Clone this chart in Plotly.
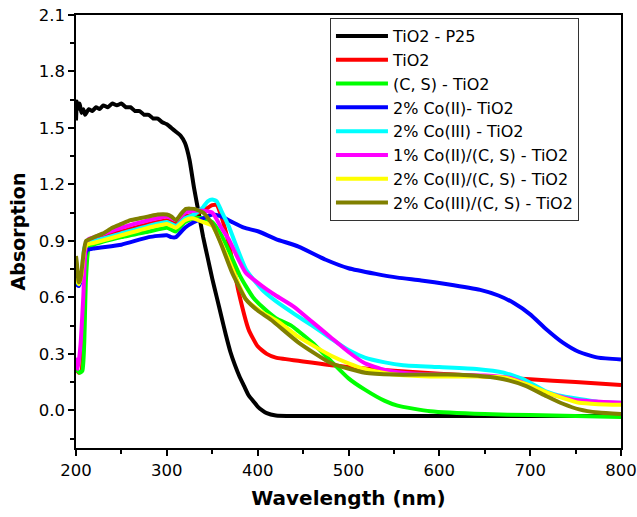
import plotly.graph_objects as go

# wavelength (nm) / absorption
p25_nm = [200, 201, 202, 204, 206, 208, 210, 214, 218, 222, 226, 230, 235, 240, 245, 250, 255, 260,
          265, 270, 275, 280, 285, 290, 295, 300, 305, 310, 315, 320, 325, 330, 335, 340, 345, 350,
          355, 360, 365, 370, 375, 380, 385, 390, 395, 400, 405, 410, 420, 440, 500, 600, 700, 800]
p25_abs = [1.54, 1.64, 1.60, 1.63, 1.58, 1.60, 1.57, 1.60, 1.59, 1.61, 1.60, 1.62, 1.61, 1.63, 1.62,
           1.63, 1.61, 1.61, 1.59, 1.59, 1.57, 1.57, 1.55, 1.55, 1.53, 1.52, 1.50, 1.48, 1.46, 1.42,
           1.33, 1.18, 1.05, 0.92, 0.81, 0.70, 0.60, 0.50, 0.40, 0.31, 0.24, 0.18, 0.13, 0.08, 0.05,
           0.02, 0.00, -0.015, -0.027, -0.03, -0.03, -0.03, -0.03, -0.03]

tio2_nm = [200, 203, 206, 208, 210, 212, 220, 250, 280, 300, 305, 310, 320, 330, 340, 350, 355, 360,
           368, 379, 390, 400, 410, 420, 450, 500, 550, 600, 650, 700, 750, 800]
tio2_abs = [0.22, 0.20, 0.21, 0.40, 0.80, 0.89, 0.91, 0.95, 0.99, 1.01, 1.00, 0.99, 1.03, 1.04, 1.06,
            1.09, 1.09, 1.03, 0.89, 0.63, 0.43, 0.34, 0.30, 0.28, 0.26, 0.23, 0.21, 0.195, 0.18,
            0.165, 0.15, 0.135]

cs_nm = [200, 204, 207, 209, 211, 214, 220, 250, 280, 300, 305, 310, 320, 330, 340, 350, 360, 368,
         380, 387, 395, 405, 420, 437, 445, 460, 481, 500, 518, 540, 554, 590, 650, 700, 800]
cs_abs = [0.22, 0.20, 0.21, 0.35, 0.70, 0.86, 0.88, 0.92, 0.95, 0.97, 0.96, 0.95, 1.00, 1.02, 1.02,
          1.00, 0.93, 0.85, 0.72, 0.66, 0.60, 0.55, 0.49, 0.45, 0.42, 0.36, 0.26, 0.17, 0.11, 0.05,
          0.025, -0.005, -0.02, -0.025, -0.035]

co2_nm = [200, 203, 206, 209, 212, 220, 250, 280, 300, 305, 310, 320, 330, 340, 350, 360, 372, 385,
          401, 420, 445, 475, 500, 530, 554, 580, 609, 645, 665, 682, 700, 718, 736, 754, 775, 800]
co2_abs = [0.67, 0.66, 0.70, 0.80, 0.85, 0.86, 0.88, 0.92, 0.93, 0.92, 0.92, 0.97, 1.00, 1.02, 1.04,
           1.03, 1.00, 0.97, 0.95, 0.91, 0.87, 0.80, 0.755, 0.725, 0.705, 0.69, 0.67, 0.64, 0.61,
           0.57, 0.51, 0.43, 0.36, 0.31, 0.28, 0.27]

co3_nm = [200, 203, 206, 209, 212, 220, 250, 280, 300, 305, 310, 320, 330, 340, 345, 350, 355, 360,
          368, 387, 405, 420, 441, 460, 481, 500, 518, 540, 560, 600, 641, 671, 695, 718, 736, 754,
          775, 800]
co3_abs = [0.69, 0.67, 0.72, 0.86, 0.89, 0.90, 0.94, 0.98, 1.00, 0.99, 0.98, 1.02, 1.04, 1.08, 1.11,
           1.12, 1.11, 1.06, 0.98, 0.75, 0.64, 0.58, 0.51, 0.45, 0.38, 0.32, 0.28, 0.255, 0.24,
           0.23, 0.22, 0.20, 0.16, 0.10, 0.075, 0.06, 0.045, 0.04]

co2cs1_nm = [200, 202, 205, 208, 211, 214, 220, 250, 280, 300, 305, 310, 320, 330, 340, 350, 360,
             368, 380, 387, 405, 420, 440, 460, 480, 500, 518, 540, 560, 600, 650, 680, 700, 720,
             750, 800]
co2cs1_abs = [0.28, 0.22, 0.35, 0.60, 0.88, 0.91, 0.92, 0.97, 1.01, 1.03, 1.02, 1.01, 1.05, 1.06,
              1.06, 1.05, 0.97, 0.91, 0.79, 0.73, 0.66, 0.61, 0.55, 0.47, 0.39, 0.31, 0.25, 0.215,
              0.20, 0.19, 0.185, 0.17, 0.13, 0.09, 0.055, 0.04]

co2cs2_nm = [200, 203, 206, 209, 212, 220, 250, 280, 300, 305, 310, 320, 328, 340, 350, 368, 387,
             405, 423, 445, 481, 500, 518, 550, 590, 640, 671, 695, 718, 736, 754, 775, 800]
co2cs2_abs = [0.70, 0.67, 0.72, 0.85, 0.88, 0.89, 0.93, 0.97, 0.99, 0.98, 0.97, 1.01, 1.02, 1.00,
              0.98, 0.80, 0.59, 0.52, 0.47, 0.39, 0.29, 0.25, 0.22, 0.19, 0.18, 0.18, 0.175, 0.14,
              0.095, 0.065, 0.04, 0.033, 0.03]

co3cs2_nm = [200, 201, 203, 205, 208, 211, 220, 230, 240, 250, 260, 270, 280, 290, 300, 305, 310,
             315, 321, 330, 340, 350, 360, 372, 387, 400, 415, 445, 481, 518, 550, 609, 650, 671,
             695, 718, 736, 754, 775, 800]
co3cs2_abs = [0.82, 0.78, 0.68, 0.70, 0.82, 0.90, 0.92, 0.94, 0.97, 0.99, 1.01, 1.02, 1.03, 1.04,
              1.04, 1.03, 1.01, 1.04, 1.07, 1.07, 1.05, 0.99, 0.88, 0.73, 0.59, 0.53, 0.48, 0.36,
              0.25, 0.20, 0.19, 0.19, 0.18, 0.165, 0.13, 0.075, 0.035, 0.005, -0.012, -0.02]

series = [
    ("TiO2 - P25", p25_nm, p25_abs, "#000000"),
    ("TiO2", tio2_nm, tio2_abs, "#ff0000"),
    ("(C, S) - TiO2", cs_nm, cs_abs, "#00ff00"),
    ("2% Co(II)- TiO2", co2_nm, co2_abs, "#0000ff"),
    ("2% Co(III) - TiO2", co3_nm, co3_abs, "#00ffff"),
    ("1% Co(II)/(C, S) - TiO2", co2cs1_nm, co2cs1_abs, "#ff00ff"),
    ("2% Co(II)/(C, S) - TiO2", co2cs2_nm, co2cs2_abs, "#ffff00"),
    ("2% Co(III)/(C, S) - TiO2", co3cs2_nm, co3cs2_abs, "#808000"),
]

# the source image is stretched sideways, a wide sans face imitates it best
FONT = "DejaVu Sans, Liberation Sans, sans-serif"

fig = go.Figure()
for name, nm, ab, color in series:
    fig.add_trace(go.Scatter(x=nm, y=ab, mode="lines", name=name,
                             line=dict(color=color, width=4, shape="spline", smoothing=0.5)))

axis_common = dict(
    showline=True, linecolor="black", linewidth=1.5, mirror=True,
    ticks="outside", ticklen=6, tickwidth=1.5, tickcolor="black",
    showgrid=False, zeroline=False, automargin=False, ticklabeloverflow="allow",
    tickfont=dict(family=FONT, size=16.5, color="black"),
)
fig.update_xaxes(
    range=[200, 800], dtick=100, tick0=200,
    minor=dict(ticks="outside", ticklen=4, tickwidth=1.5, dtick=50, tickcolor="black"),
    title=dict(text="<b>Wavelength (nm)</b>", font=dict(family=FONT, size=20, color="black"),
               standoff=12),
    **axis_common,
)
fig.update_yaxes(
    range=[-0.2, 2.1], dtick=0.3, tick0=0, tickformat=".1f",
    minor=dict(ticks="outside", ticklen=4, tickwidth=1.5, dtick=0.15, tickcolor="black"),
    title=dict(text="<b>Absorption</b>", font=dict(family=FONT, size=19, color="black"),
               standoff=8),
    **axis_common,
)
fig.update_layout(
    width=637, height=517,
    margin=dict(l=76, r=16, t=15, b=69),
    plot_bgcolor="white", paper_bgcolor="white",
    font=dict(family=FONT, color="black"),
    legend=dict(x=0.466, y=0.993, xanchor="left", yanchor="top",
                bordercolor="#333333", borderwidth=1, bgcolor="white",
                font=dict(family=FONT, size=16, color="black"),
                tracegroupgap=0, itemwidth=52),
)
fig.write_html("out.html", config={"displayModeBar": False},
               post_script="document.body.style.margin = '0';")
